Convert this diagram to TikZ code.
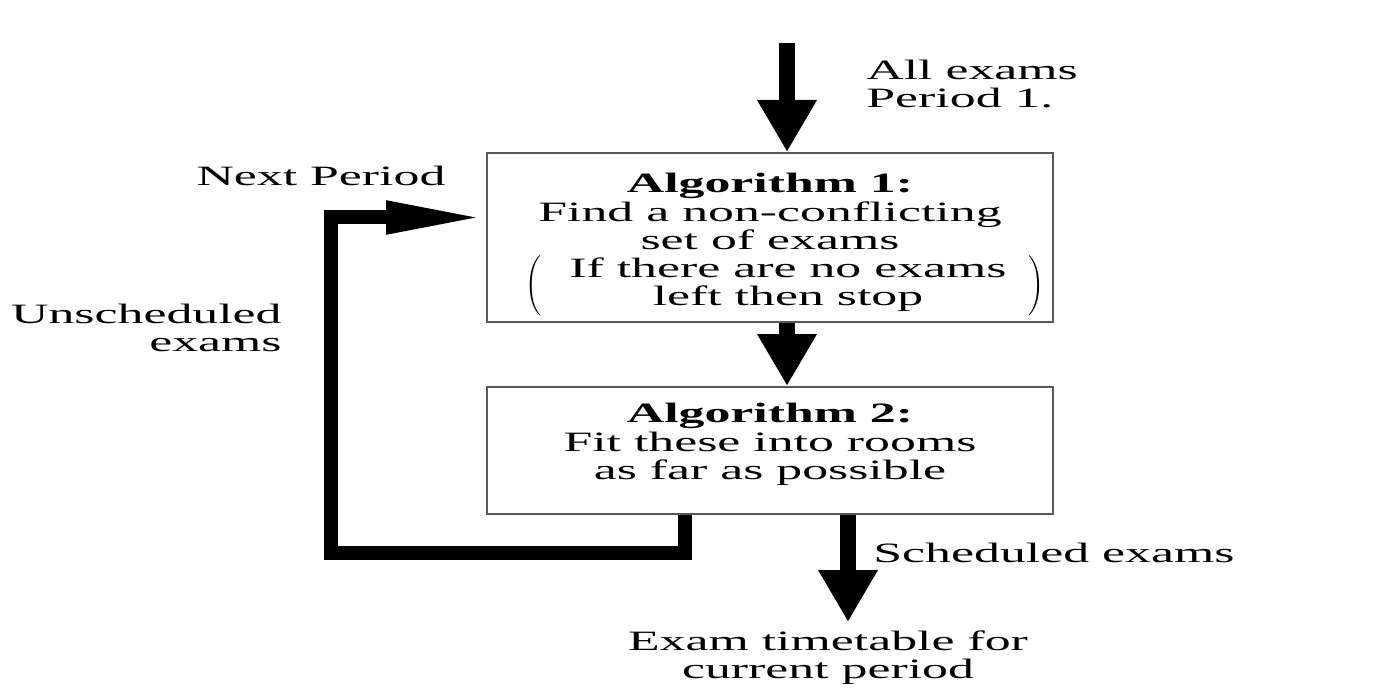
\documentclass[tikz,border=0pt]{standalone}
\usepackage{fontspec}
\setmainfont{Liberation Serif}[FakeStretch=1.85]
\usetikzlibrary{arrows.meta}
\usetikzlibrary{positioning}
\tikzset{
	algbox/.style={rectangle, draw=black!65, line width=1pt, align=center, minimum width=283pt, inner sep=0pt},
	flow/.style={draw, -{Triangle[length=26pt, width=28pt]}, line width=8pt},
	loopback/.style={draw, -{Triangle[length=50pt, width=15pt]}, line width=7pt, line join=miter},
	note/.style={inner sep=0pt}
}

\begin{document}
\begin{tikzpicture}[x=0.5pt, y=-0.5pt, every node/.style={font=\fontsize{14}{14.2}\selectfont}]
\useasboundingbox (0,0) rectangle (1384,689);

\node[algbox, minimum height=84.5pt] (alg1) at (770,237.5)
	{\rule{0pt}{17pt}\textbf{Algorithm 1:}\\Find a non-conflicting\\set of exams\\[2pt]
	\hspace*{15pt}$\left(\hspace{14pt}\begin{tabular}{@{}c@{}}If there are no exams\\left then stop\end{tabular}\hspace{11pt}\right)$};

\node[algbox, minimum height=63.5pt, below=31.5pt of alg1] (alg2)
	{\textbf{Algorithm 2:}\\Fit these into rooms\\as far as possible\\[-5pt]};

\coordinate (start) at (787,43);
\coordinate (result) at (848,622);
\coordinate (back) at (331,553);

\node[note, anchor=west, align=left] (allexams) at (866,84) {All exams\\Period 1.};
\node[note] (nextperiod) at (321,176) {Next Period};
\node[note, anchor=east, align=right] (unsched) at (282,328) {Unscheduled\\exams};
\node[note, anchor=west] (sched) at (873,553) {Scheduled exams};
\node[note, align=center, below=4pt of result, xshift=-10pt] (timetable) {Exam timetable for\\current period};

\draw [flow] (start) -- (start |- alg1.north);
\draw [flow] (alg1.south -| start) -- (alg2.north -| start);
\draw [flow] (alg2.south -| result) -- (result);
\draw [loopback] ([xshift=-42.5pt]alg2.south) |- (back) |- ([yshift=10pt]alg1.west);

\end{tikzpicture}
\end{document}
